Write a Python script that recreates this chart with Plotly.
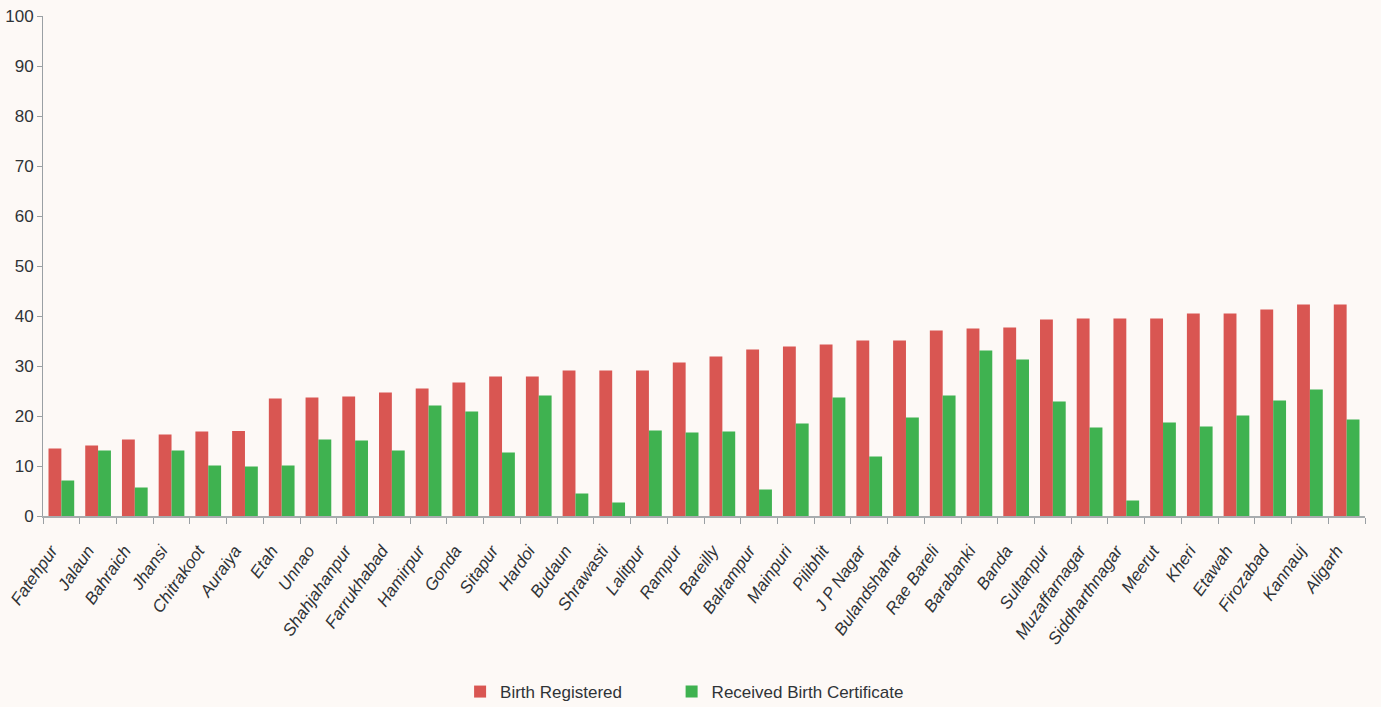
import plotly.graph_objects as go

districts = ["Fatehpur", "Jalaun", "Bahraich", "Jhansi", "Chitrakoot", "Auraiya", "Etah", "Unnao",
             "Shahjahanpur", "Farrukhabad", "Hamirpur", "Gonda", "Sitapur", "Hardoi", "Budaun",
             "Shrawasti", "Lalitpur", "Rampur", "Bareilly", "Balrampur", "Mainpuri", "Pilibhit",
             "J P Nagar", "Bulandshahar", "Rae Bareli", "Barabanki", "Banda", "Sultanpur",
             "Muzaffarnagar", "Siddharthnagar", "Meerut", "Kheri", "Etawah", "Firozabad",
             "Kannauj", "Aligarh"]

birth_registered = [13.5, 14.1, 15.3, 16.3, 16.9, 17.0, 23.5, 23.7, 23.9, 24.7, 25.5, 26.7,
                    27.9, 27.9, 29.1, 29.1, 29.1, 30.7, 31.9, 33.3, 33.9, 34.3, 35.1, 35.1,
                    37.1, 37.5, 37.7, 39.3, 39.5, 39.5, 39.5, 40.5, 40.5, 41.3, 42.3, 42.3]

received_certificate = [7.1, 13.1, 5.7, 13.1, 10.1, 9.9, 10.1, 15.3, 15.1, 13.1, 22.1, 20.9,
                        12.7, 24.1, 4.5, 2.7, 17.1, 16.7, 16.9, 5.3, 18.5, 23.7, 11.9, 19.7,
                        24.1, 33.1, 31.3, 22.9, 17.7, 3.1, 18.7, 17.9, 20.1, 23.1, 25.3, 19.3]

y_ticks = [0, 10, 20, 30, 40, 50, 60, 70, 80, 90, 100]

font_family = "Liberation Sans Narrow, Liberation Sans, Arial, sans-serif"
bg = "#fdf9f6"

fig = go.Figure()
fig.add_trace(go.Bar(x=districts, y=birth_registered, name="Birth Registered",
                     marker_color="#d95652", marker_line_width=0, legend="legend"))
fig.add_trace(go.Bar(x=districts, y=received_certificate, name="Received Birth Certificate",
                     marker_color="#3fb250", marker_line_width=0, legend="legend2"))

legend_style = dict(orientation="h", yref="container", y=0.0212, yanchor="middle",
                    xanchor="left", font=dict(size=17, family=font_family),
                    itemwidth=30, bgcolor="rgba(0,0,0,0)")

fig.update_layout(
    width=1381, height=707,
    paper_bgcolor=bg, plot_bgcolor=bg,
    margin=dict(l=43, r=16, t=16, b=191),
    barmode="group", bargap=0.3, bargroupgap=0,
    font=dict(family=font_family, color="#2f3336"),
    legend=dict(x=0.3155, **legend_style),
    legend2=dict(x=0.4755, **legend_style),
    showlegend=True,
)

fig.update_xaxes(
    tickson="boundaries", ticks="outside", ticklen=6, tickcolor="#9aa0a4",
    showline=True, linecolor="#a8acae", linewidth=2,
    tickangle=-55, tickfont=dict(size=17, style="italic", family=font_family),
    ticklabelstandoff=16, ticklabelshift=-10,
    showgrid=False, zeroline=False, automargin=False,
)
fig.update_yaxes(
    range=[0, 100], tickvals=y_ticks, ticks="outside", ticklen=5, tickcolor="#9aa0a4",
    showline=True, linecolor="#9aa0a4", linewidth=1,
    tickfont=dict(size=17, family=font_family), ticklabeloverflow="allow",
    showgrid=False, zeroline=False, automargin=False,
)

# drop the default page margin so the figure fills the window exactly
fig.write_html(
    "out.html",
    config={"displayModeBar": False},
    post_script="document.body.style.margin='0';"
                "Plotly.relayout(document.getElementById('{plot_id}'), {width: 1381, height: 707});",
)
